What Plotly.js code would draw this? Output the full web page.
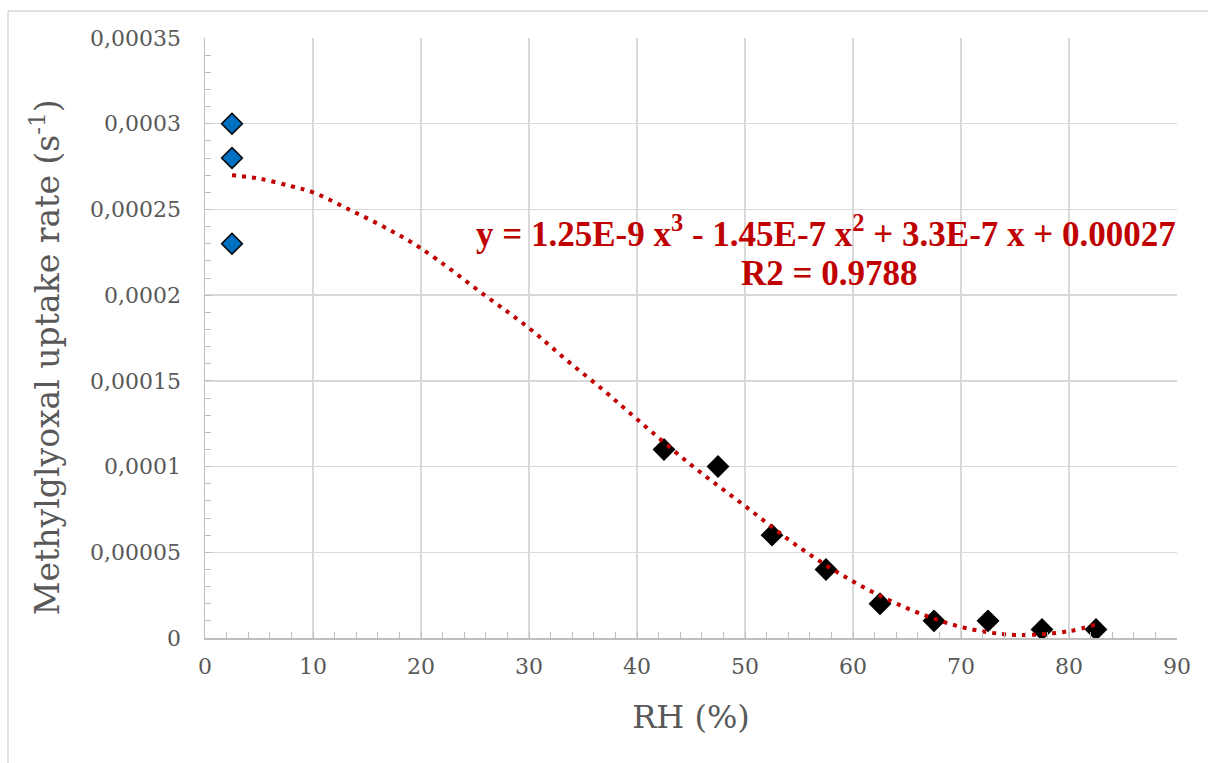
<!DOCTYPE html>
<html>
<head>
<meta charset="utf-8">
<script src="https://cdn.plot.ly/plotly-3.0.1.min.js"></script>
<style>html,body{margin:0;padding:0;background:#fff;}#chart{width:1208px;height:763px;}</style>
</head>
<body>
<div id="chart"></div>
<script>
// Data
const dryRH = [2.5, 2.5, 2.5];
const dryRate = [0.00030, 0.00028, 0.00023];
const humidRH = [42.5, 47.5, 52.5, 57.5, 62.5, 67.5, 72.5, 77.5, 82.5];
const humidRate = [0.00011, 0.00010, 0.00006, 0.00004, 0.00002, 0.00001, 0.00001, 0.000005, 0.000005];
const trendRH = [2.5, 5, 8, 10, 13, 16.5, 20, 26, 30, 33.5, 37, 40, 45, 50, 55, 60, 65, 70, 75, 80, 82.5];
const trendRate = [0.000270, 0.000268, 0.0002635, 0.000260, 0.000251, 0.000240, 0.0002273, 0.0001995, 0.0001808, 0.000162, 0.000144, 0.0001276, 0.000101, 0.000077, 0.000053, 0.000033, 0.0000174, 0.0000065, 0.0000018, 0.000004, 0.000008];
const yTickVals = [0, 0.00005, 0.0001, 0.00015, 0.0002, 0.00025, 0.0003, 0.00035];
const yTickText = ["0", "0,00005", "0,0001", "0,00015", "0,0002", "0,00025", "0,0003", "0,00035"];
const xTickVals = [0, 10, 20, 30, 40, 50, 60, 70, 80, 90];
const equationLine = "y = 1.25E-9 x<sup>3</sup> - 1.45E-7 x<sup>2</sup> + 3.3E-7 x + 0.00027";
const r2Line = "R2 = 0.9788";
const xTitle = "RH (%)";
const yTitle = "Methylglyoxal uptake rate (s<sup>-1</sup>)";

const FONT = "DejaVu Serif, serif";
const EQFONT = "Liberation Serif, Times New Roman, serif";

const traces = [
  {
    x: dryRH, y: dryRate, type: 'scatter', mode: 'markers',
    marker: {symbol: 'diamond', size: 16, color: '#0070C0', line: {color: '#000000', width: 1.5}},
    hoverinfo: 'x+y'
  },
  {
    x: humidRH, y: humidRate, type: 'scatter', mode: 'markers',
    marker: {symbol: 'diamond', size: 16, color: '#000000', line: {color: '#000000', width: 1.5}},
    hoverinfo: 'x+y'
  },
  {
    x: trendRH, y: trendRate, type: 'scatter', mode: 'lines',
    line: {color: '#C00000', width: 4, dash: '4px,6px', shape: 'spline', smoothing: 1},
    hoverinfo: 'skip'
  }
];

const layout = {
  width: 1208, height: 763,
  margin: {l: 205, r: 31, t: 38, b: 125},
  paper_bgcolor: '#ffffff', plot_bgcolor: '#ffffff',
  showlegend: false,
  font: {family: FONT, color: '#595959'},
  xaxis: {
    range: [0, 90], tickvals: xTickVals, ticktext: xTickVals.map(String),
    showgrid: true, gridcolor: '#d9d9d9', gridwidth: 1.5,
    showline: true, linecolor: '#bfbfbf', linewidth: 1.5,
    ticks: 'inside', ticklen: 6, tickcolor: '#bfbfbf',
    minor: {dtick: 2, ticks: 'inside', ticklen: 6, tickcolor: '#bfbfbf', showgrid: false},
    tickfont: {family: FONT, size: 22, color: '#595959'},
    ticklabelstandoff: 8,
    zeroline: false,
    title: {text: xTitle, font: {family: FONT, size: 32, color: '#595959'}, standoff: 27}
  },
  yaxis: {
    range: [0, 0.00035], tickvals: yTickVals, ticktext: yTickText,
    showgrid: true, gridcolor: '#d9d9d9', gridwidth: 1.5,
    showline: true, linecolor: '#bfbfbf', linewidth: 1.5,
    ticks: 'inside', ticklen: 6, tickcolor: '#bfbfbf',
    minor: {dtick: 0.00001, ticks: 'inside', ticklen: 6, tickcolor: '#bfbfbf', showgrid: false},
    tickfont: {family: FONT, size: 22, color: '#595959'},
    ticklabelstandoff: 18,
    zeroline: false
  },
  annotations: [
    {
      xref: 'paper', yref: 'paper', x: -0.1646, y: 0.468,
      xanchor: 'center', yanchor: 'middle', textangle: -90,
      showarrow: false, text: yTitle,
      font: {family: FONT, size: 33, color: '#595959'}
    },
    {
      xref: 'paper', yref: 'paper', x: 0.639, y: 0.678,
      xanchor: 'center', yanchor: 'middle', align: 'center',
      showarrow: false, text: equationLine,
      font: {family: EQFONT, size: 35, color: '#C00000', weight: 'bold'}
    },
    {
      xref: 'paper', yref: 'paper', x: 0.642, y: 0.608,
      xanchor: 'center', yanchor: 'middle', align: 'center',
      showarrow: false, text: r2Line,
      font: {family: EQFONT, size: 35, color: '#C00000', weight: 'bold'}
    }
  ],
  shapes: [
    {type: 'line', xref: 'paper', yref: 'paper', x0: -0.2027, x1: 1.05, y0: 1.045, y1: 1.045, line: {color: '#d9d9d9', width: 1.5}},
    {type: 'line', xref: 'paper', yref: 'paper', x0: -0.2027, x1: -0.2027, y0: 1.045, y1: -0.25, line: {color: '#d9d9d9', width: 1.5}}
  ]
};

Plotly.newPlot('chart', traces, layout, {displayModeBar: false, staticPlot: true});
</script>
</body>
</html>
